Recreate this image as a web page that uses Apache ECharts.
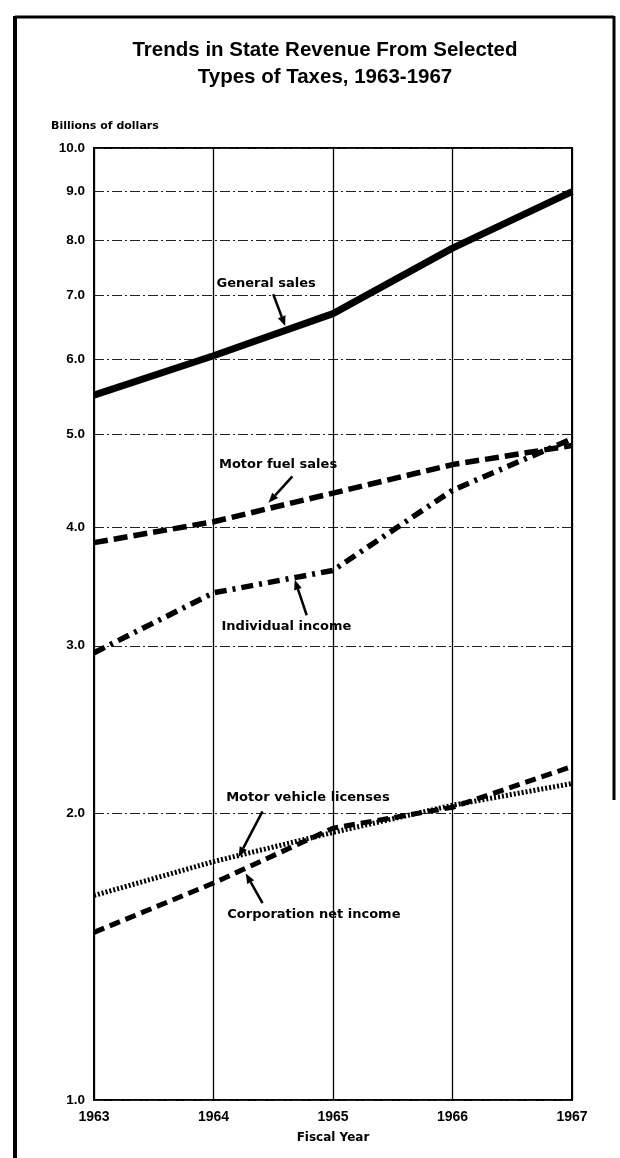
<!DOCTYPE html>
<html>
<head>
<meta charset="utf-8">
<script src="https://cdn.jsdelivr.net/npm/echarts@6/dist/echarts.min.js"></script>
<style>
  html, body { margin: 0; padding: 0; background: #fff; }
  #chart { width: 620px; height: 1158px; }
</style>
</head>
<body>
<div id="chart"></div>
<script>
// values in billions of dollars
const years = [1963, 1964, 1965, 1966, 1967];
const generalSales = [5.5, 6.05, 6.7, 7.85, 9.0];
const motorFuelSales = [3.85, 4.05, 4.34, 4.65, 4.87];
const individualIncome = [2.95, 3.41, 3.6, 4.37, 4.95];
const motorVehicleLicenses = [1.64, 1.78, 1.91, 2.04, 2.15];
const corporationNetIncome = [1.5, 1.69, 1.93, 2.03, 2.24];
const yTicks = [1, 2, 3, 4, 5, 6, 7, 8, 9, 10];

// label placement + arrow (tail -> tip) in data space
const notes = [
  { text: 'General sales', at: [1964.44, 7.21], from: [1964.5, 7.02], to: [1964.6, 6.5] },
  { text: 'Motor fuel sales', at: [1964.54, 4.65], from: [1964.66, 4.52], to: [1964.46, 4.24] },
  { text: 'Individual income', at: [1964.61, 3.14], from: [1964.78, 3.23], to: [1964.68, 3.52] },
  { text: 'Motor vehicle licenses', at: [1964.79, 2.08], from: [1964.41, 2.01], to: [1964.21, 1.8] },
  { text: 'Corporation net income', at: [1964.84, 1.564], from: [1964.41, 1.61], to: [1964.27, 1.73] }
];

const font = '"Liberation Sans", Arial, sans-serif';
const wide = '"DejaVu Sans", sans-serif';
const pair = (vals) => years.map((y, i) => [y, vals[i]]);

const chart = echarts.init(document.getElementById('chart'));

const lineSeries = (name, vals, width, type) => ({
  name,
  type: 'line',
  data: pair(vals),
  symbol: 'none',
  silent: true,
  lineStyle: { color: '#000', width, type, cap: 'butt' },
  z: 5
});

chart.setOption({
  animation: false,
  backgroundColor: '#fff',
  title: {
    text: 'Trends in State Revenue From Selected\nTypes of Taxes, 1963-1967',
    left: 320,
    top: 32,
    textAlign: 'center',
    textStyle: { fontFamily: font, fontWeight: 'bold', fontSize: 20.5, lineHeight: 27, color: '#000' }
  },
  grid: {
    left: 94,
    right: 48,
    top: 148,
    bottom: 58,
    show: true,
    borderColor: '#000',
    borderWidth: 2
  },
  xAxis: {
    type: 'value',
    min: 1963,
    max: 1967,
    interval: 1,
    name: 'Fiscal Year',
    nameLocation: 'middle',
    nameGap: 32,
    nameTextStyle: { fontFamily: wide, fontWeight: 'bold', fontSize: 12, color: '#000' },
    axisLine: { show: false },
    axisTick: { show: false },
    axisLabel: { fontFamily: font, fontWeight: 'bold', fontSize: 14, color: '#000', margin: 10, formatter: (v) => String(v) },
    splitLine: { show: true, lineStyle: { color: '#000', width: 1.3 } }
  },
  yAxis: {
    type: 'log',
    logBase: 10,
    min: 1,
    max: 10,
    axisLine: { show: false },
    axisTick: { show: false, customValues: yTicks },
    axisLabel: {
      customValues: yTicks,
      fontFamily: font, fontWeight: 'bold', fontSize: 13.5, color: '#000', margin: 9,
      formatter: (v) => Number(v).toFixed(1)
    },
    splitLine: { show: true, lineStyle: { color: '#222', width: 1, type: [10, 3, 2, 3] } }
  },
  series: [
    lineSeries('General sales', generalSales, 7, 'solid'),
    lineSeries('Motor fuel sales', motorFuelSales, 5.5, [14, 6]),
    lineSeries('Individual income', individualIncome, 5.5, [12, 6, 3, 6]),
    lineSeries('Motor vehicle licenses', motorVehicleLicenses, 5, [2, 2]),
    lineSeries('Corporation net income', corporationNetIncome, 5, [11, 6])
  ]
});

// frame, axis caption, annotations with arrows
const graphics = [
  { type: 'line', shape: { x1: 15, y1: 17, x2: 614, y2: 17 }, style: { stroke: '#000', lineWidth: 3 } },
  { type: 'line', shape: { x1: 15, y1: 16, x2: 15, y2: 1158 }, style: { stroke: '#000', lineWidth: 4 } },
  { type: 'line', shape: { x1: 614, y1: 16, x2: 614, y2: 800 }, style: { stroke: '#000', lineWidth: 3 } },
  {
    type: 'text', x: 51, y: 126,
    style: { text: 'Billions of dollars', font: 'bold 11px ' + wide, fill: '#000', textVerticalAlign: 'middle' }
  }
];

notes.forEach((n) => {
  const p = chart.convertToPixel({ gridIndex: 0 }, n.at);
  graphics.push({
    type: 'text', x: p[0], y: p[1], z: 10,
    style: { text: n.text, font: 'bold 13px ' + wide, fill: '#000', textAlign: 'center', textVerticalAlign: 'middle' }
  });
  const a = chart.convertToPixel({ gridIndex: 0 }, n.from);
  const b = chart.convertToPixel({ gridIndex: 0 }, n.to);
  const dx = b[0] - a[0], dy = b[1] - a[1];
  const len = Math.sqrt(dx * dx + dy * dy);
  const ux = dx / len, uy = dy / len;
  const head = 10, half = 4;
  const bx = b[0] - ux * head, by = b[1] - uy * head;
  graphics.push({
    type: 'line', z: 10,
    shape: { x1: a[0], y1: a[1], x2: bx, y2: by },
    style: { stroke: '#000', lineWidth: 2.5 }
  });
  graphics.push({
    type: 'polygon', z: 10,
    shape: { points: [[b[0], b[1]], [bx - uy * half, by + ux * half], [bx + uy * half, by - ux * half]] },
    style: { fill: '#000' }
  });
});

chart.setOption({ graphic: graphics });
</script>
</body>
</html>
